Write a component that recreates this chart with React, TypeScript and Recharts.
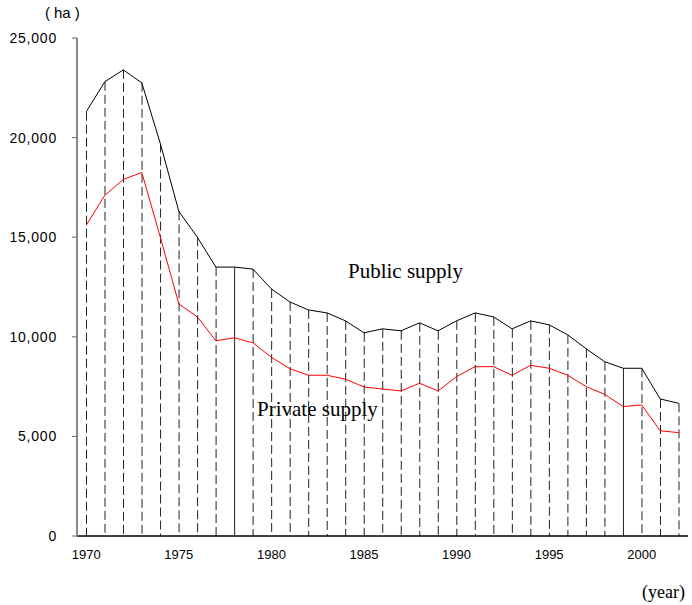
import React from 'react';
import { ComposedChart, Line, Bar, XAxis, YAxis } from 'recharts';

const years = [1970,1971,1972,1973,1974,1975,1976,1977,1978,1979,1980,1981,1982,1983,1984,1985,1986,1987,1988,1989,1990,1991,1992,1993,1994,1995,1996,1997,1998,1999,2000,2001,2002];
const publicSupply = [21300,22800,23400,22750,19700,16300,15000,13500,13500,13400,12400,11750,11350,11200,10800,10200,10400,10300,10700,10300,10800,11200,11000,10400,10800,10600,10100,9400,8750,8420,8420,6880,6660];
const privateSupply = [15600,17100,17900,18250,15000,11650,11000,9800,9950,9700,8970,8400,8070,8070,7870,7480,7380,7280,7670,7280,8000,8500,8500,8070,8570,8420,8070,7500,7110,6500,6580,5280,5190];
const yTicks = [0, 5000, 10000, 15000, 20000, 25000];
const labeledYears = [1970, 1975, 1980, 1985, 1990, 1995, 2000];
const solidYears = [1978, 1999];

const data = years.map((y, i) => ({ year: y, pub: publicSupply[i], priv: privateSupply[i] }));

const DropLine = (props: any) => {
  const { x, y, width, height, payload } = props;
  if (height == null || isNaN(height)) return null;
  const cx = x + width / 2;
  const solid = solidYears.includes(payload.year);
  return (
    <line x1={cx} x2={cx} y1={y} y2={y + height} stroke="#222" strokeWidth={1}
      strokeDasharray={solid ? undefined : '9 4'} />
  );
};

const fmt = (v: number) => v === 0 ? '0' : v.toLocaleString('en-US');

export default function App() {
  return (
    <div style={{ position: 'absolute', left: 0, top: 0, width: 692, height: 605, background: '#fff' }}>
      <ComposedChart width={692} height={605} data={data}
        margin={{ top: 38, right: 4, bottom: 39, left: 0 }} barCategoryGap={0}>
        <XAxis dataKey="year" type="category" interval={0} tickLine={false}
          axisLine={{ stroke: '#000', strokeWidth: 1.5 }} height={30} tickMargin={8}
          tick={{ fill: '#000', fontSize: 13, fontFamily: 'Liberation Sans, Arial, sans-serif' }}
          tickFormatter={(v: number) => (labeledYears.includes(v) ? String(v) : '')} />
        <YAxis type="number" domain={[0, 25000]} ticks={yTicks} width={77}
          axisLine={{ stroke: '#888', strokeWidth: 2 }} tickLine={{ stroke: '#666' }} tickSize={5}
          tickMargin={15} tickFormatter={fmt}
          tick={{ fill: '#000', fontSize: 14, fontFamily: 'Liberation Sans, Arial, sans-serif', letterSpacing: 0.8 }} />
        <Bar dataKey="pub" shape={DropLine} isAnimationActive={false} />
        <Line dataKey="pub" stroke="#000" strokeWidth={1} dot={false} isAnimationActive={false} type="linear" />
        <Line dataKey="priv" stroke="#ff0000" strokeWidth={1} dot={false} isAnimationActive={false} type="linear" />
      </ComposedChart>
      <div style={{ position: 'absolute', left: 45, top: 4, fontSize: 15, fontFamily: 'Liberation Sans, Arial, sans-serif', lineHeight: '18px', whiteSpace: 'nowrap' }}>
        <span style={{ marginRight: 4 }}>(</span>ha<span style={{ marginLeft: 4 }}>)</span>
      </div>
      <div style={{ position: 'absolute', left: 348, top: 258, fontSize: 21, fontFamily: 'Liberation Serif, Times New Roman, serif', lineHeight: '26px', whiteSpace: 'nowrap' }}>Public supply</div>
      <div style={{ position: 'absolute', left: 257, top: 396, fontSize: 21, fontFamily: 'Liberation Serif, Times New Roman, serif', lineHeight: '26px', whiteSpace: 'nowrap' }}>Private supply</div>
      <div style={{ position: 'absolute', left: 642, top: 581, fontSize: 18, fontFamily: 'Liberation Serif, Times New Roman, serif', lineHeight: '22px', whiteSpace: 'nowrap' }}>(year)</div>
    </div>
  );
}
